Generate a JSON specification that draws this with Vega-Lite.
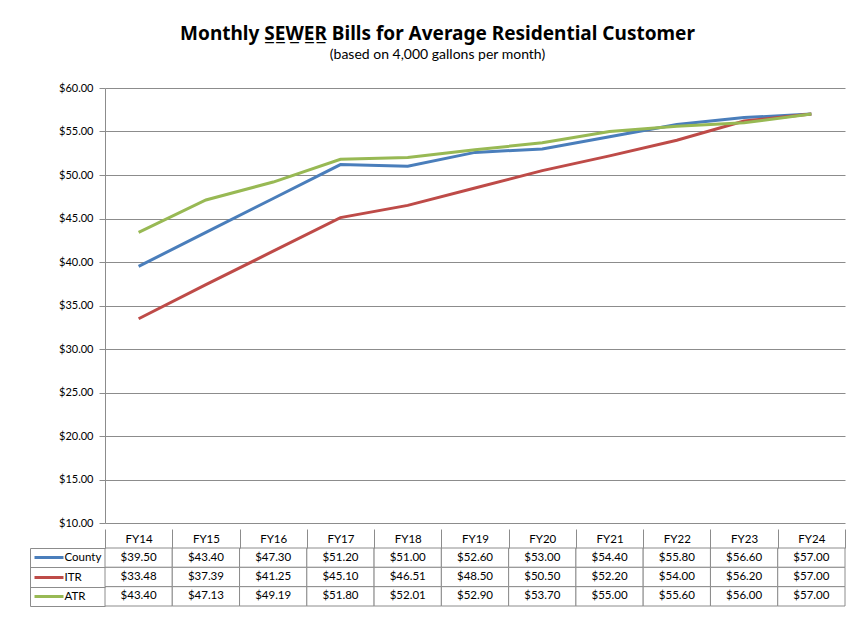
{
  "$schema": "https://vega.github.io/schema/vega-lite/v6.json",
  "autosize": {"type": "pad"},
  "padding": {"left": 29, "top": 25, "right": 7, "bottom": 20},
  "background": "white",
  "spacing": 0,
  "title": {
    "text": "Monthly S̲E̲W̲E̲R̲ Bills for Average Residential Customer",
    "subtitle": "(based on 4,000 gallons per month)",
    "anchor": "middle",
    "font": "Noto Sans",
    "fontSize": 19,
    "fontWeight": "bold",
    "color": "#000000",
    "subtitleFont": "Lato",
    "subtitleFontSize": 14,
    "subtitleColor": "#000000",
    "subtitlePadding": 4,
    "offset": 20
  },
  "config": {
    "view": {"stroke": null},
    "axis": {"labelFont": "Lato", "labelColor": "#000000", "gridColor": "#8c8c8c", "domainColor": "#8c8c8c", "tickColor": "#8c8c8c"}
  },
  "datasets": {
    "bills": [
      {"FY": "FY14", "Series": "County", "Bill": 39.50},
      {"FY": "FY15", "Series": "County", "Bill": 43.40},
      {"FY": "FY16", "Series": "County", "Bill": 47.30},
      {"FY": "FY17", "Series": "County", "Bill": 51.20},
      {"FY": "FY18", "Series": "County", "Bill": 51.00},
      {"FY": "FY19", "Series": "County", "Bill": 52.60},
      {"FY": "FY20", "Series": "County", "Bill": 53.00},
      {"FY": "FY21", "Series": "County", "Bill": 54.40},
      {"FY": "FY22", "Series": "County", "Bill": 55.80},
      {"FY": "FY23", "Series": "County", "Bill": 56.60},
      {"FY": "FY24", "Series": "County", "Bill": 57.00},
      {"FY": "FY14", "Series": "ITR", "Bill": 33.48},
      {"FY": "FY15", "Series": "ITR", "Bill": 37.39},
      {"FY": "FY16", "Series": "ITR", "Bill": 41.25},
      {"FY": "FY17", "Series": "ITR", "Bill": 45.10},
      {"FY": "FY18", "Series": "ITR", "Bill": 46.51},
      {"FY": "FY19", "Series": "ITR", "Bill": 48.50},
      {"FY": "FY20", "Series": "ITR", "Bill": 50.50},
      {"FY": "FY21", "Series": "ITR", "Bill": 52.20},
      {"FY": "FY22", "Series": "ITR", "Bill": 54.00},
      {"FY": "FY23", "Series": "ITR", "Bill": 56.20},
      {"FY": "FY24", "Series": "ITR", "Bill": 57.00},
      {"FY": "FY14", "Series": "ATR", "Bill": 43.40},
      {"FY": "FY15", "Series": "ATR", "Bill": 47.13},
      {"FY": "FY16", "Series": "ATR", "Bill": 49.19},
      {"FY": "FY17", "Series": "ATR", "Bill": 51.80},
      {"FY": "FY18", "Series": "ATR", "Bill": 52.01},
      {"FY": "FY19", "Series": "ATR", "Bill": 52.90},
      {"FY": "FY20", "Series": "ATR", "Bill": 53.70},
      {"FY": "FY21", "Series": "ATR", "Bill": 55.00},
      {"FY": "FY22", "Series": "ATR", "Bill": 55.60},
      {"FY": "FY23", "Series": "ATR", "Bill": 56.00},
      {"FY": "FY24", "Series": "ATR", "Bill": 57.00}
    ]
  },
  "vconcat": [
    {
      "width": 740,
      "height": 435,
      "data": {"name": "bills"},
      "mark": {"type": "line", "strokeWidth": 3},
      "encoding": {
        "x": {"field": "FY", "type": "ordinal", "scale": {"type": "point", "padding": 0.5}, "axis": null},
        "y": {
          "field": "Bill", "type": "quantitative",
          "scale": {"domain": [10, 60]},
          "axis": {"values": [10, 15, 20, 25, 30, 35, 40, 45, 50, 55, 60], "format": "$.2f", "title": null, "tickSize": 6, "labelFontSize": 11, "labelPadding": 6}
        },
        "color": {
          "field": "Series", "type": "nominal",
          "scale": {"domain": ["County", "ITR", "ATR"], "range": ["#4a7ebb", "#be4b48", "#98b954"]},
          "legend": null
        }
      }
    },
    {
      "width": 740,
      "height": 58,
      "data": {"name": "bills"},
      "layer": [
        {
          "mark": {"type": "rect", "fill": "white", "stroke": "#8c8c8c", "strokeWidth": 1},
          "encoding": {
            "x": {
              "field": "FY", "type": "ordinal",
              "scale": {"paddingInner": 0, "paddingOuter": 0},
              "axis": {"orient": "top", "title": null, "domain": false, "tickBand": "extent", "tickSize": 19, "labelPadding": -10, "labelBaseline": "middle", "labelAngle": 0, "labelFontSize": 11.5}
            },
            "y": {
              "field": "Series", "type": "nominal", "sort": ["County", "ITR", "ATR"],
              "scale": {"paddingInner": 0, "paddingOuter": 0},
              "axis": {"orient": "left", "offset": 75, "title": null, "tickBand": "extent", "tickSize": -75, "labelAlign": "left", "labelPadding": 41, "labelBaseline": "middle", "labelFontSize": 11.5}
            }
          }
        },
        {
          "mark": {"type": "text", "font": "Lato", "fontSize": 11.5, "color": "#000000"},
          "encoding": {
            "x": {"field": "FY", "type": "ordinal", "axis": null},
            "y": {
              "field": "Series", "type": "nominal", "sort": ["County", "ITR", "ATR"],
              "axis": {
                "orient": "left", "offset": 42, "title": null, "domain": false, "labels": false,
                "tickSize": 29, "tickWidth": 3,
                "tickColor": {"condition": [{"test": "datum.value === 'County'", "value": "#4a7ebb"}, {"test": "datum.value === 'ITR'", "value": "#be4b48"}], "value": "#98b954"}
              }
            },
            "text": {"field": "Bill", "type": "quantitative", "format": "$.2f"}
          }
        }
      ],
      "resolve": {"axis": {"x": "independent", "y": "independent"}}
    }
  ]
}
